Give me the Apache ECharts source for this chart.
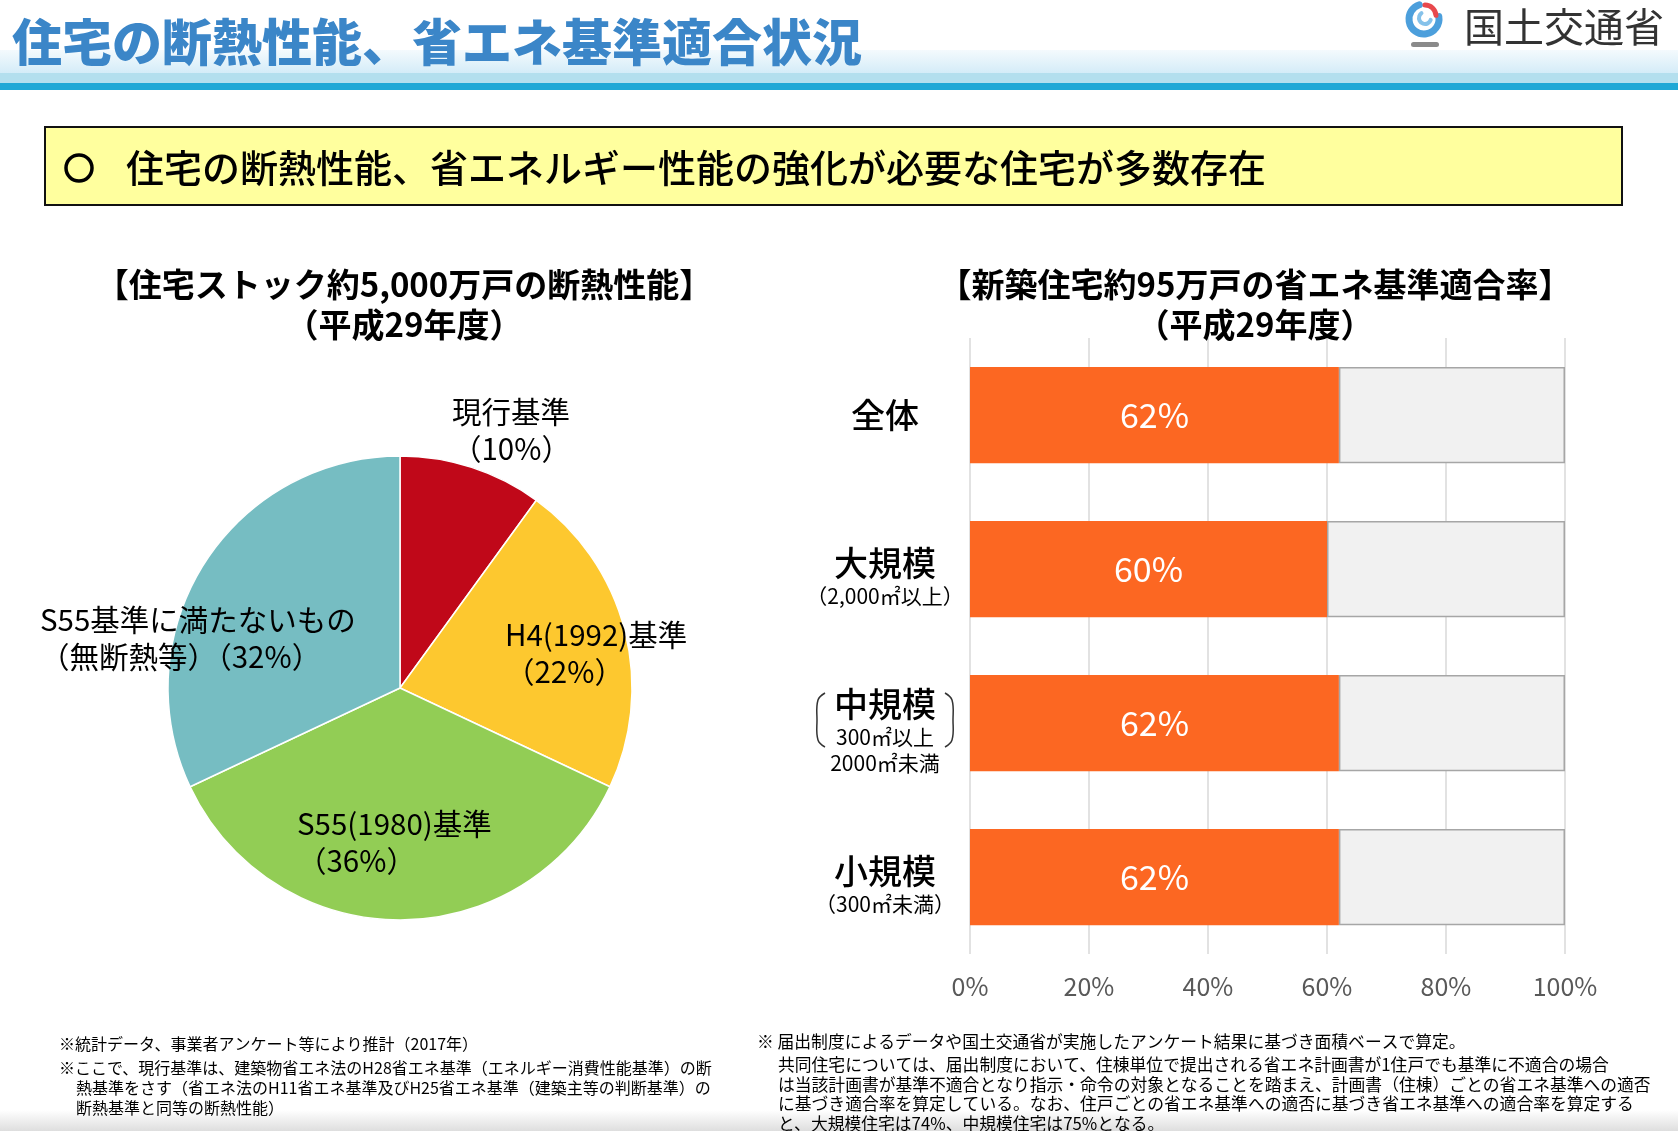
<!DOCTYPE html>
<html>
<head>
<meta charset="utf-8">
<script src="https://cdn.jsdelivr.net/npm/echarts@6/dist/echarts.min.js"></script>
<style>
html, body { margin: 0; padding: 0; background: #fff; }
#main { width: 1678px; height: 1131px; }
</style>
</head>
<body>
<div id="main"></div>
<script>
// left: stock insulation (pie)
var pieNames = ['現行基準', 'H4(1992)基準', 'S55(1980)基準', 'S55基準に満たないもの'];
var pieNotes = ['', '', '', '（無断熱等）'];
var pieValues = [10, 22, 36, 32];
var pieColors = ['#c00819', '#fdc82f', '#92cd55', '#76bdc2'];

// right: new housing compliance rate (bar)
var barCats = ['全体', '大規模', '中規模', '小規模'];
var barSubs = ['', '（2,000㎡以上）', '300㎡以上\n2000㎡未満', '（300㎡未満）'];
var barValues = [62, 60, 62, 62];

var FONT = '"Noto Sans CJK JP", "Noto Sans", sans-serif';

// where each pie label sits (left edge, vertical middle)
var pieLabelPos = [[452, 430], [505, 653], [297, 842], [40, 638]];

var chart = echarts.init(document.getElementById('main'));

function catLabel(v) {
    var i = barCats.indexOf(v);
    var s = barSubs[i];
    if (!s) return '{big|' + v + '}';
    if (s.indexOf('\n') >= 0) {
        return '{sp| }\n{big|' + v + '}\n' + s.split('\n').map(function (t) { return '{md|' + t + '}'; }).join('\n');
    }
    return '{sp| }\n{big|' + v + '}\n{sm|' + s + '}';
}

var footLeft = [
    ['※統計データ、事業者アンケート等により推計（2017年）', 59, 1044],
    ['※ここで、現行基準は、建築物省エネ法のH28省エネ基準（エネルギー消費性能基準）の断', 59, 1068],
    ['熱基準をさす（省エネ法のH11省エネ基準及びH25省エネ基準（建築主等の判断基準）の', 76, 1088],
    ['断熱基準と同等の断熱性能）', 76, 1108]
];
var footRight = [
    ['※ 届出制度によるデータや国土交通省が実施したアンケート結果に基づき面積ベースで算定。', 757, 1042],
    ['共同住宅については、届出制度において、住棟単位で提出される省エネ計画書が1住戸でも基準に不適合の場合', 778, 1065],
    ['は当該計画書が基準不適合となり指示・命令の対象となることを踏まえ、計画書（住棟）ごとの省エネ基準への適否', 778, 1085],
    ['に基づき適合率を算定している。なお、住戸ごとの省エネ基準への適否に基づき省エネ基準への適合率を算定する', 778, 1104],
    ['と、大規模住宅は74%、中規模住宅は75%となる。', 778, 1124]
];

var graphics = [
    // header band
    { type: 'rect', shape: { x: 0, y: 50, width: 1678, height: 23 }, z: 0,
      style: { fill: new echarts.graphic.LinearGradient(0, 0, 0, 1, [{ offset: 0, color: '#f4fafd' }, { offset: 1, color: '#d4ecf8' }]) } },
    { type: 'rect', shape: { x: 0, y: 73, width: 1678, height: 10 }, z: 0, style: { fill: '#b3dfee' } },
    { type: 'rect', shape: { x: 0, y: 83, width: 1678, height: 7 }, z: 0, style: { fill: '#1fa8d6' } },
    { type: 'text', x: 12, y: 42, z: 5,
      style: { text: '住宅の断熱性能、省エネ基準適合状況', fill: '#3b86c8', font: '900 50px ' + FONT, textVerticalAlign: 'middle' } },
    // logo
    { type: 'arc', shape: { cx: 1424, cy: 19, r: 15, startAngle: -0.05 * Math.PI, endAngle: 1.4 * Math.PI }, z: 5,
      style: { stroke: '#4c9fdc', lineWidth: 7, fill: null, lineCap: 'round' } },
    { type: 'arc', shape: { cx: 1425, cy: 18, r: 6, startAngle: 0.1 * Math.PI, endAngle: 1.3 * Math.PI }, z: 5,
      style: { stroke: '#86c2ea', lineWidth: 4, fill: null, lineCap: 'round' } },
    { type: 'arc', shape: { cx: 1425, cy: 16, r: 11, startAngle: -0.5 * Math.PI, endAngle: -0.02 * Math.PI }, z: 6,
      style: { stroke: '#e8484c', lineWidth: 5, fill: null, lineCap: 'round' } },
    { type: 'rect', shape: { x: 1411, y: 42, width: 28, height: 5, r: 2.5 }, z: 5, style: { fill: '#8a8a8a' } },
    { type: 'text', x: 1464, y: 27, z: 5,
      style: { text: '国土交通省', fill: '#333', font: '400 40px ' + FONT, textVerticalAlign: 'middle' } },
    // yellow box
    { type: 'rect', shape: { x: 45, y: 127, width: 1577, height: 78 }, z: 1,
      style: { fill: '#ffff9e', stroke: '#111', lineWidth: 2 } },
    { type: 'circle', shape: { cx: 79, cy: 168, r: 13 }, z: 2,
      style: { fill: null, stroke: '#000', lineWidth: 3.5 } },
    { type: 'text', x: 126, y: 168, z: 2,
      style: { text: '住宅の断熱性能、省エネルギー性能の強化が必要な住宅が多数存在', fill: '#000', font: '500 38px ' + FONT, textVerticalAlign: 'middle' } },
    // brackets around 中規模
    { type: 'polyline', z: 5, shape: { points: [[825, 693], [818, 700], [817, 720], [818, 740], [825, 747]], smooth: 0.4 },
      style: { stroke: '#333', lineWidth: 1.5, fill: null } },
    { type: 'polyline', z: 5, shape: { points: [[945, 693], [952, 700], [953, 720], [952, 740], [945, 747]], smooth: 0.4 },
      style: { stroke: '#333', lineWidth: 1.5, fill: null } },
    // bottom shade
    { type: 'rect', shape: { x: 0, y: 1110, width: 1678, height: 21 }, z: 0,
      style: { fill: new echarts.graphic.LinearGradient(0, 0, 0, 1, [{ offset: 0, color: '#ffffff' }, { offset: 1, color: '#dedede' }]) } }
];

footLeft.concat(footRight).forEach(function (f, i) {
    graphics.push({ type: 'text', x: f[1], y: f[2], z: 3,
        style: { text: f[0], fill: '#000', font: '400 ' + (i < footLeft.length ? 16 : 16.8) + 'px ' + FONT, textVerticalAlign: 'middle' } });
});

var restValues = barValues.map(function (v) { return 100 - v; });

chart.setOption({
    animation: false,
    textStyle: { fontFamily: FONT },
    title: [
        { text: '【住宅ストック約5,000万戸の断熱性能】\n（平成29年度）', left: 399, top: 259, textAlign: 'center',
          textStyle: { fontSize: 33, fontWeight: 'bold', color: '#000', lineHeight: 40, fontFamily: FONT } },
        { text: '【新築住宅約95万戸の省エネ基準適合率】\n（平成29年度）', left: 1250, top: 259, textAlign: 'center',
          textStyle: { fontSize: 33, fontWeight: 'bold', color: '#000', lineHeight: 40, fontFamily: FONT } }
    ],
    graphic: graphics,
    grid: { left: 970, right: 113, top: 338, bottom: 177, containLabel: false },
    xAxis: {
        type: 'value', min: 0, max: 100, interval: 20,
        axisLine: { show: false }, axisTick: { show: false },
        splitLine: { show: true, lineStyle: { color: '#d9d9d9', width: 1.5 } },
        axisLabel: { formatter: '{value}%', color: '#595959', fontSize: 25, margin: 20, fontFamily: FONT }
    },
    yAxis: {
        type: 'category', data: barCats, inverse: true,
        axisLine: { show: false }, axisTick: { show: false },
        axisLabel: {
            align: 'center', margin: 85, formatter: catLabel,
            rich: {
                sp: { fontSize: 1, lineHeight: 14, fontFamily: FONT },
                big: { fontSize: 34, fontWeight: 500, color: '#000', lineHeight: 40, fontFamily: FONT },
                sm: { fontSize: 21, color: '#000', lineHeight: 26, fontFamily: FONT },
                md: { fontSize: 21, color: '#000', lineHeight: 26, fontFamily: FONT }
            }
        }
    },
    series: [
        {
            type: 'pie', center: [400, 688], radius: 232, startAngle: 90, clockwise: true,
            label: {
                show: true, position: 'inside', color: '#000', fontSize: 29.5, lineHeight: 37, fontFamily: FONT,
                formatter: function (p) { return p.name + '\n' + pieNotes[p.dataIndex] + '（' + p.value + '%）'; }
            },
            labelLine: { show: false },
            labelLayout: function (p) {
                var pos = pieLabelPos[p.dataIndex];
                return { x: pos[0], y: pos[1], align: 'left', verticalAlign: 'middle' };
            },
            itemStyle: { borderColor: '#fff', borderWidth: 1.5 },
            emphasis: { disabled: true },
            data: pieNames.map(function (n, i) {
                return { name: n, value: pieValues[i], itemStyle: { color: pieColors[i] } };
            })
        },
        {
            type: 'bar', stack: 'all', data: barValues, barWidth: '62.5%',
            itemStyle: { color: '#fc6722' },
            label: { show: true, position: 'inside', formatter: '{c}%', color: '#fff', fontSize: 34, fontFamily: FONT }
        },
        {
            type: 'bar', stack: 'all', data: restValues, barWidth: '62.5%',
            itemStyle: { color: '#f1f1f1', borderColor: '#a6a6a6', borderWidth: 1.5 }
        }
    ]
});
</script>
</body>
</html>
